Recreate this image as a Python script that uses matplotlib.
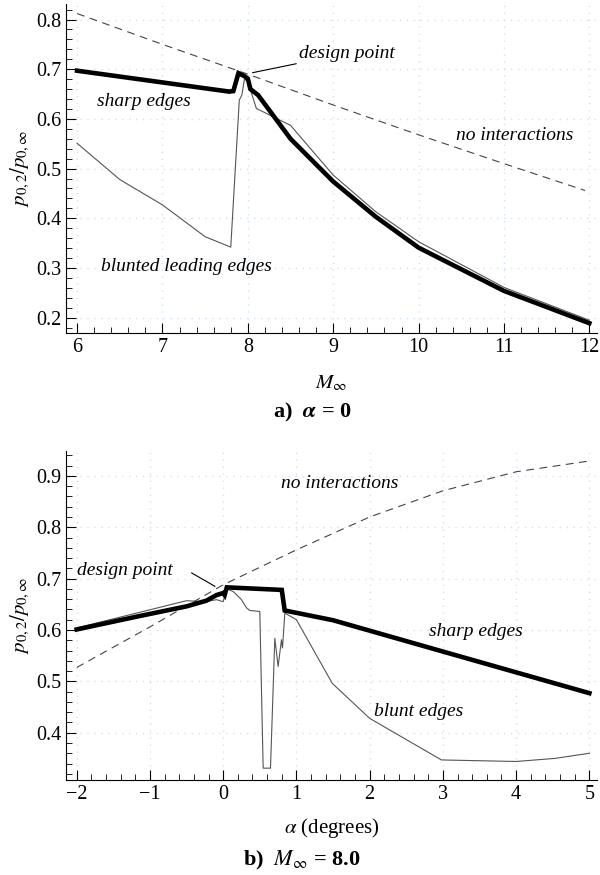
import numpy as np
import matplotlib
matplotlib.use("Agg")
import matplotlib.pyplot as plt
from matplotlib.ticker import MultipleLocator

plt.rcParams['font.family'] = ['Liberation Serif', 'DejaVu Serif']
plt.rcParams['mathtext.fontset'] = 'stix'

# a) alpha = 0, pressure recovery vs free-stream Mach number
mach_ideal = [6, 7, 8, 9, 10, 11, 11.95]
p_ideal_a = [0.812, 0.750, 0.690, 0.628, 0.568, 0.510, 0.456]

mach_sharp = [6, 7.78, 7.83, 7.89, 7.96, 8.0, 8.03, 8.12, 8.5, 9, 9.5, 10, 11, 12]
p_sharp_a = [0.697, 0.655, 0.656, 0.692, 0.686, 0.681, 0.660, 0.648, 0.560, 0.474, 0.403, 0.341, 0.254, 0.189]

mach_blunt = [6, 6.5, 7, 7.5, 7.8, 7.9, 7.93, 7.96, 8.0, 8.1, 8.5, 9, 9.5, 10, 11, 12]
p_blunt_a = [0.551, 0.478, 0.427, 0.363, 0.342, 0.638, 0.648, 0.680, 0.675, 0.621, 0.587, 0.487, 0.413, 0.353, 0.261, 0.195]

# b) M = 8.0, pressure recovery vs angle of attack
alpha_ideal = [-2, -1, 0, 1, 2, 3, 4, 5]
p_ideal_b = [0.527, 0.606, 0.688, 0.756, 0.820, 0.871, 0.908, 0.929]

alpha_sharp = [-2, -1.18, -0.5, -0.23, -0.09, 0.0, 0.02, 0.05, 0.8, 0.84, 1.5, 3, 5]
p_sharp_b = [0.601, 0.626, 0.646, 0.657, 0.668, 0.672, 0.668, 0.683, 0.678, 0.638, 0.619, 0.558, 0.477]

alpha_blunt = [-2, -1.18, -0.5, -0.25, -0.09, 0.0, 0.045, 0.137, 0.25, 0.32, 0.364, 0.5, 0.546,
               0.646, 0.705, 0.75, 0.796, 0.81, 0.842, 1.0, 1.49, 2, 2.98, 4, 4.53, 5]
p_blunt_b = [0.604, 0.633, 0.657, 0.655, 0.659, 0.655, 0.680, 0.675, 0.659, 0.643, 0.638, 0.636, 0.331,
             0.331, 0.584, 0.529, 0.581, 0.565, 0.633, 0.620, 0.496, 0.428, 0.347, 0.344, 0.350, 0.360]

grid_col = '#cfe2f3'
thin_col = '#555555'
fs = 14
tick_fs = 14.5


def style_axes(ax):
    for s in ['top', 'right']:
        ax.spines[s].set_visible(False)
    ax.tick_params(which='both', direction='in', labelsize=tick_fs)
    ax.tick_params(which='major', length=7, width=0.8)
    ax.tick_params(which='minor', length=4, width=0.6)
    ax.grid(True, which='major', color=grid_col, linestyle=(0, (1, 4)), linewidth=1)
    ax.set_ylabel(r'$p_{0,2}/p_{0,\infty}$', fontsize=fs + 1, labelpad=3)


fig = plt.figure(figsize=(6, 8.75), dpi=100)

ax1 = fig.add_axes([0.11, 0.619, 0.885, 0.3763])
ax1.plot(mach_ideal, p_ideal_a, color='#444444', lw=0.8, dashes=(7, 5))
ax1.plot(mach_blunt, p_blunt_a, color=thin_col, lw=0.8)
ax1.plot(mach_sharp, p_sharp_a, color='black', lw=3.3, solid_joinstyle='miter')
ax1.set_xlim(5.87, 12.09)
ax1.set_ylim(0.1685, 0.831)
ax1.xaxis.set_major_locator(MultipleLocator(1))
ax1.xaxis.set_minor_locator(MultipleLocator(0.2))
ax1.yaxis.set_major_locator(MultipleLocator(0.1))
ax1.yaxis.set_minor_locator(MultipleLocator(0.02))
style_axes(ax1)
ax1.set_xlabel(r'$M_\infty$', fontsize=fs + 1, labelpad=12)
ax1.annotate('design point', xy=(8.055, 0.693), xytext=(8.6, 0.732),
             fontsize=fs, style='italic', va='center', ha='left',
             arrowprops=dict(arrowstyle='-', color='black', lw=0.8, shrinkA=0, shrinkB=0))
ax1.text(6.78, 0.635, 'sharp edges', fontsize=fs, style='italic', ha='center', va='center')
ax1.text(7.28, 0.303, 'blunted leading edges', fontsize=fs, style='italic', ha='center', va='center')
ax1.text(11.13, 0.567, 'no interactions', fontsize=fs, style='italic', ha='center', va='center')

ax2 = fig.add_axes([0.11, 0.1086, 0.885, 0.3763])
ax2.plot(alpha_ideal, p_ideal_b, color='#444444', lw=0.8, dashes=(7, 5))
ax2.plot(alpha_blunt, p_blunt_b, color=thin_col, lw=0.8)
ax2.plot(alpha_sharp, p_sharp_b, color='black', lw=3.3, solid_joinstyle='miter')
ax2.set_xlim(-2.146, 5.104)
ax2.set_ylim(0.308, 0.949)
ax2.xaxis.set_major_locator(MultipleLocator(1))
ax2.xaxis.set_minor_locator(MultipleLocator(0.2))
ax2.yaxis.set_major_locator(MultipleLocator(0.1))
ax2.yaxis.set_minor_locator(MultipleLocator(0.02))
style_axes(ax2)
ax2.set_xticks(range(-2, 6))
ax2.set_xticklabels(['\u22122', '\u22121', '0', '1', '2', '3', '4', '5'])
ax2.set_xlabel(r'$\alpha$ (degrees)', fontsize=fs + 1, labelpad=9)
ax2.plot([-0.43, -0.113], [0.711, 0.685], color='black', lw=0.8)
ax2.text(-1.99, 0.715, 'design point', fontsize=fs, style='italic', ha='left', va='center')
ax2.text(1.59, 0.886, 'no interactions', fontsize=fs, style='italic', ha='center', va='center')
ax2.text(3.455, 0.597, 'sharp edges', fontsize=fs, style='italic', ha='center', va='center')
ax2.text(2.67, 0.441, 'blunt edges', fontsize=fs, style='italic', ha='center', va='center')

fig.text(312 / 600, 1 - 412 / 875, r'a)  $\boldsymbol{\alpha}$ = 0', fontsize=16,
         weight='bold', ha='center', va='center')
fig.text(302 / 600, 1 - 860 / 875, r'b)  $\boldsymbol{M_\infty}$ = 8.0', fontsize=16,
         weight='bold', ha='center', va='center')

fig.savefig('out.png', dpi=100)
